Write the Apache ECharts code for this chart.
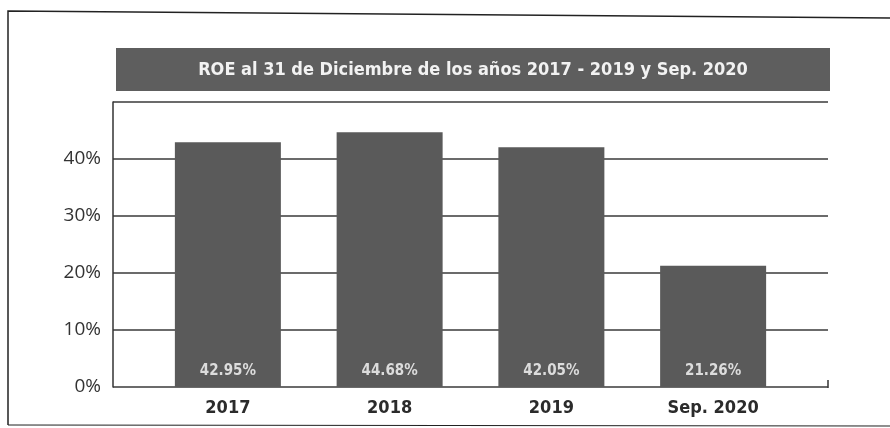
<!DOCTYPE html>
<html>
<head>
<meta charset="utf-8">
<script src="https://cdn.jsdelivr.net/npm/echarts@6/dist/echarts.min.js"></script>
<style>html,body{margin:0;padding:0;background:#fff;}#c{width:890px;height:428px;}</style>
</head>
<body>
<div id="c"></div>
<script>
const titleText = 'ROE al 31 de Diciembre de los años 2017 - 2019 y Sep. 2020';
const categories = ['2017', '2018', '2019', 'Sep. 2020'];
const roeValues = [42.95, 44.68, 42.05, 21.26];
const valueLabels = ['42.95%', '44.68%', '42.05%', '21.26%'];
const yTicks = [0, 10, 20, 30, 40, 50];

const chart = echarts.init(document.getElementById('c'));
const option = {
  backgroundColor: '#ffffff',
  animation: false,
  grid: [
    { left: 113, right: 62, top: 102, bottom: 41 },
    { left: 147, right: 96, top: 102, bottom: 41 }
  ],
  xAxis: [
    { gridIndex: 0, type: 'value', show: false, min: 0, max: 1 },
    {
      gridIndex: 1, type: 'category', data: categories,
      axisLine: { show: false }, axisTick: { show: false },
      axisLabel: { color: '#2b2b2b', fontSize: 18, fontWeight: 'bold', fontFamily: '"DejaVu Sans Condensed", "Open Sans"', margin: 12 }
    }
  ],
  yAxis: [
    {
      gridIndex: 0, type: 'value', min: yTicks[0], max: yTicks[yTicks.length - 1], interval: 10,
      axisLine: { show: true, lineStyle: { color: '#333', width: 1.5 } },
      axisTick: { show: false },
      splitLine: { show: true, lineStyle: { color: '#3a3a3a', width: 1.5 } },
      axisLabel: {
        color: '#333', fontSize: 19, fontFamily: 'Open Sans', margin: 12,
        formatter: v => (v === 50 ? '' : v + '%')
      }
    },
    { gridIndex: 1, type: 'value', min: 0, max: 50, show: false }
  ],
  series: [{
    type: 'bar', xAxisIndex: 1, yAxisIndex: 1,
    data: roeValues, barWidth: 106,
    itemStyle: { color: '#5a5a5a' },
    label: {
      show: true, position: 'insideBottom', distance: 8,
      formatter: p => valueLabels[p.dataIndex],
      color: '#dcdcdc', fontSize: 15, fontWeight: 'bold', fontFamily: '"DejaVu Sans Condensed", sans-serif'
    }
  }],
  graphic: [
    { type: 'polyline', shape: { points: [[8, 425], [8, 11], [890, 18]] }, style: { stroke: '#222', lineWidth: 1.5, fill: null } },
    { type: 'line', shape: { x1: 8, y1: 425, x2: 890, y2: 426 }, style: { stroke: '#222', lineWidth: 1.2 } },
    { type: 'rect', shape: { x: 116, y: 48, width: 714, height: 43 }, style: { fill: '#5e5e5e' } },
    { type: 'text', x: 473, y: 70, style: { text: titleText, fill: '#f2f2f2', font: 'bold 18px "DejaVu Sans Condensed", sans-serif', align: 'center', verticalAlign: 'middle' } },
    { type: 'line', shape: { x1: 828, y1: 380, x2: 828, y2: 388 }, style: { stroke: '#333', lineWidth: 1.5 } }
  ]
};
chart.setOption(option);
</script>
</body>
</html>
